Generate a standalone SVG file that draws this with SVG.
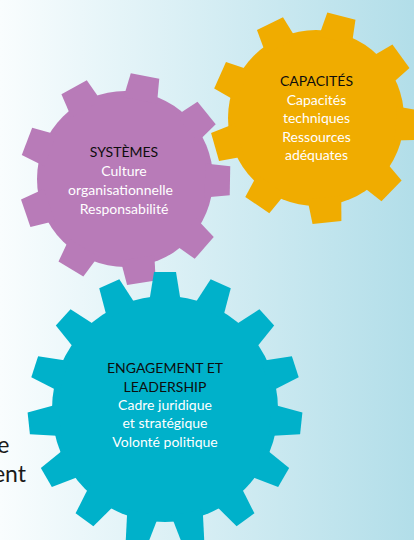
<svg xmlns="http://www.w3.org/2000/svg" width="414" height="540" viewBox="0 0 414 540">
<defs>
<linearGradient id="bg" x1="0" y1="0" x2="1" y2="0">
<stop offset="0" stop-color="#F9FDFE"/>
<stop offset="1" stop-color="#B2DEE9"/>
</linearGradient>
<polygon id="t9" points="-14.5,-105 14.5,-105 17,-80 -17,-80"/>
<polygon id="t15" points="-11,-137 11,-137 16,-106 -16,-106"/>
</defs>
<style>
.h{font-family:Lato,"Liberation Sans",sans-serif;font-size:14px;fill:#0d0d0d;text-anchor:middle}
.w{font-family:Lato,"Liberation Sans",sans-serif;font-size:14px;fill:#ffffff;text-anchor:middle}
.side{font-family:Lato,"Liberation Sans",sans-serif;font-size:23px;fill:#1a1a1a;text-anchor:end}
</style>
<rect x="0" y="0" width="414" height="540" fill="url(#bg)"/>
<text class="side" x="9.5" y="453">e</text>
<text class="side" x="26" y="482">ent</text>
<g id="systemes" fill="#B87BB8">
<circle cx="125" cy="179" r="88"/>
<use href="#t9" transform="translate(125 179) rotate(11)"/>
<use href="#t9" transform="translate(125 179) rotate(51)"/>
<use href="#t9" transform="translate(125 179) rotate(91)"/>
<use href="#t9" transform="translate(125 179) rotate(131)"/>
<use href="#t9" transform="translate(125 179) rotate(171)"/>
<use href="#t9" transform="translate(125 179) rotate(211)"/>
<use href="#t9" transform="translate(125 179) rotate(251)"/>
<use href="#t9" transform="translate(125 179) rotate(291)"/>
<use href="#t9" transform="translate(125 179) rotate(331)"/>
<text class="h" x="124" y="157">SYSTÈMES</text>
<text class="w" x="124" y="176">Culture</text>
<text class="w" x="120.5" y="195">organisationnelle</text>
<text class="w" x="124" y="213.5">Responsabilité</text>
</g>
<g id="capacites" fill="#F0AC00">
<circle cx="316" cy="118" r="88"/>
<use href="#t9" transform="translate(316 118) rotate(14)"/>
<use href="#t9" transform="translate(316 118) rotate(54)"/>
<use href="#t9" transform="translate(316 118) rotate(94)"/>
<use href="#t9" transform="translate(316 118) rotate(134)"/>
<use href="#t9" transform="translate(316 118) rotate(174)"/>
<use href="#t9" transform="translate(316 118) rotate(214)"/>
<use href="#t9" transform="translate(316 118) rotate(254)"/>
<use href="#t9" transform="translate(316 118) rotate(294)"/>
<use href="#t9" transform="translate(316 118) rotate(334)"/>
<text class="h" x="316.5" y="86">CAPACITÉS</text>
<text class="w" x="316.5" y="104.5">Capacités</text>
<text class="w" x="316.5" y="123">techniques</text>
<text class="w" x="316.5" y="141.5">Ressources</text>
<text class="w" x="316.5" y="160">adéquates</text>
</g>
<g id="engagement" fill="#00B1CA">
<circle cx="165" cy="409" r="113"/>
<use href="#t15" transform="translate(165 409) rotate(0)"/>
<use href="#t15" transform="translate(165 409) rotate(24)"/>
<use href="#t15" transform="translate(165 409) rotate(48)"/>
<use href="#t15" transform="translate(165 409) rotate(72)"/>
<use href="#t15" transform="translate(165 409) rotate(96)"/>
<use href="#t15" transform="translate(165 409) rotate(120)"/>
<use href="#t15" transform="translate(165 409) rotate(144)"/>
<use href="#t15" transform="translate(165 409) rotate(168)"/>
<use href="#t15" transform="translate(165 409) rotate(192)"/>
<use href="#t15" transform="translate(165 409) rotate(216)"/>
<use href="#t15" transform="translate(165 409) rotate(240)"/>
<use href="#t15" transform="translate(165 409) rotate(264)"/>
<use href="#t15" transform="translate(165 409) rotate(288)"/>
<use href="#t15" transform="translate(165 409) rotate(312)"/>
<use href="#t15" transform="translate(165 409) rotate(336)"/>
<text class="h" x="165" y="373.3">ENGAGEMENT ET</text>
<text class="h" x="165" y="391.7">LEADERSHIP</text>
<text class="w" x="165" y="410">Cadre juridique</text>
<text class="w" x="165" y="428.3">et stratégique</text>
<text class="w" x="165" y="446.7">Volonté politique</text>
</g>
<g id="connectors"/>
</svg>
